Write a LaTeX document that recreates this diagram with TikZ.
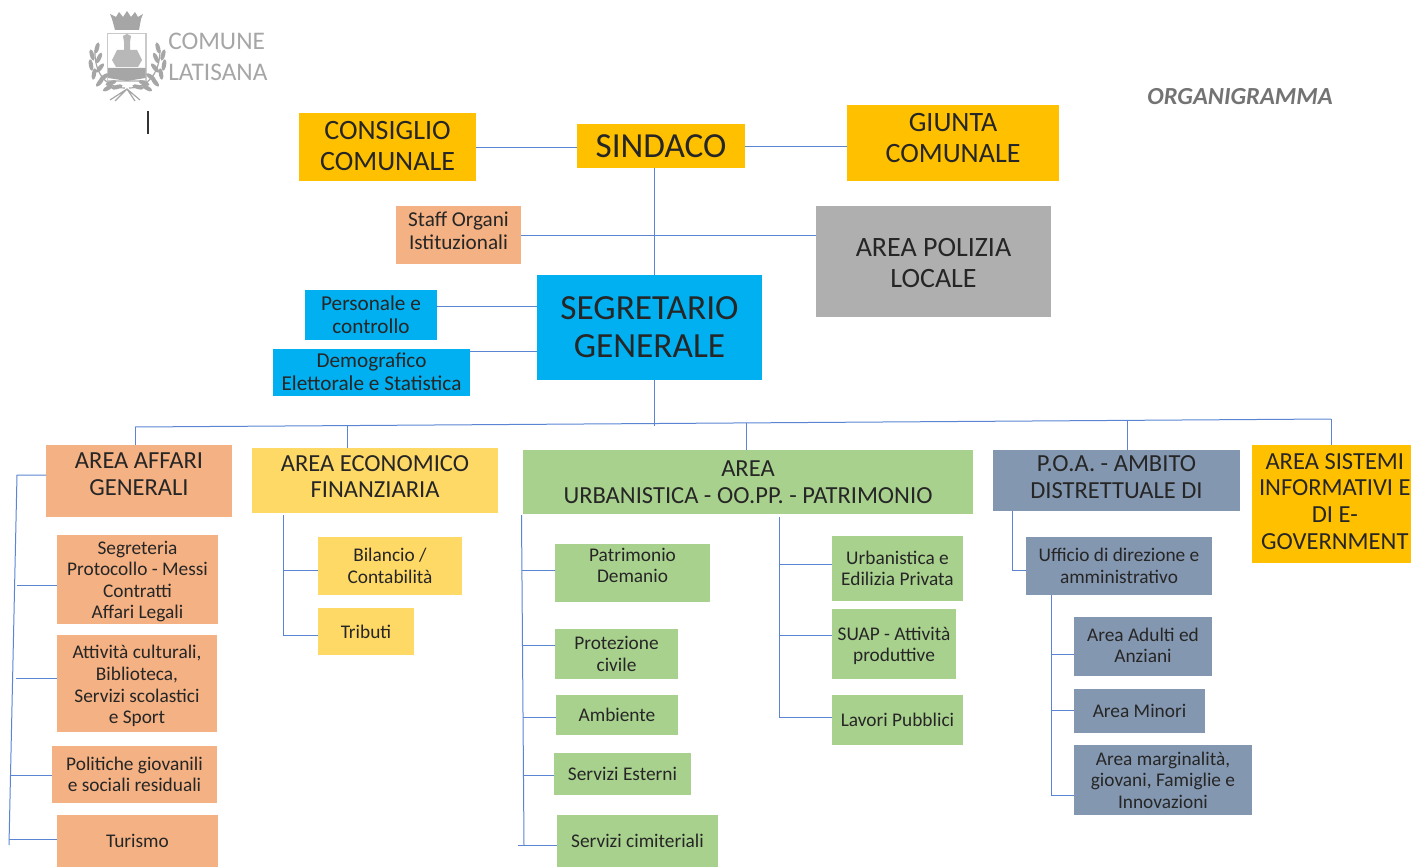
\documentclass[tikz,border=0pt]{standalone}
\usepackage{fontspec}
\setmainfont{Carlito}
\definecolor{goldbox}{HTML}{FFC000}
\definecolor{salmonbox}{HTML}{F4B183}
\definecolor{yellowbox}{HTML}{FFD966}
\definecolor{greenbox}{HTML}{A9D18E}
\definecolor{skybox}{HTML}{00B0F0}
\definecolor{greybox}{HTML}{AFAFAF}
\definecolor{slatebox}{HTML}{8497B0}
\definecolor{linkblue}{HTML}{5B85D3}
\definecolor{logogrey}{HTML}{A6A6A6}
\tikzset{
  wh/.style args={#1x#2}{minimum width=#1*0.75pt, minimum height=#2*0.75pt},
  orgbox/.style={rectangle, inner sep=0pt, align=center, text=black!85},
  small/.style={orgbox, font=\fontsize{14.5}{16.2}\selectfont},
  staffsize/.style={orgbox, font=\fontsize{15.9}{17.2}\selectfont},
  medium/.style={orgbox, font=\fontsize{18.4}{19.9}\selectfont},
  large/.style={orgbox, font=\fontsize{21}{23.25}\selectfont},
  link/.style={draw=linkblue, line width=0.75pt},
  leaf/.style={fill=logogrey, draw=none}
}
\begin{document}
\begin{tikzpicture}[x=0.75pt, y=-0.75pt]
   \useasboundingbox (0,0) rectangle (1411,867);

   % top of the chart
   \node[large, fill=goldbox, wh=177x68, label={[large, yshift=0.75pt]center:{CONSIGLIO\\COMUNALE}}] (consiglio) at (387.5,147) {};
   \node[orgbox, fill=goldbox, wh=168x44, font=\fontsize{26.4}{28}\selectfont] (sindaco) at (661,146) {SINDACO};
   \node[large, fill=goldbox, wh=212x76, label={[large, yshift=3.75pt]center:{GIUNTA\\COMUNALE}}] (giunta) at (953,143) {};
   \node[staffsize, fill=salmonbox, wh=125x58, label={[staffsize, yshift=3pt]center:{Staff Organi\\Istituzionali}}] (staff) at (458.5,235) {};
   \node[large, fill=greybox, wh=235x111, label={[large, yshift=-1.2pt]center:{AREA POLIZIA\\LOCALE}}] (polizia) at (933.5,261.5) {};
   \node[orgbox, fill=skybox, wh=225x105, font=\fontsize{26.5}{28.5}\selectfont] (segretario) at (649.5,327.5) {SEGRETARIO\\GENERALE};
   \node[staffsize, fill=skybox, wh=132x50] (personale) at (371,315) {Personale e\\controllo};
   \node[staffsize, fill=skybox, wh=197x47] (demografico) at (371.5,372) {Demografico\\Elettorale e Statistica};

   % the areas
   \node[medium, fill=salmonbox, wh=186x72, label={[medium, yshift=5pt]center:{AREA AFFARI\\GENERALI}}] (affari) at (139,481) {};
   \node[medium, fill=yellowbox, wh=246x65, label={[medium, yshift=3pt]center:{AREA ECONOMICO\\FINANZIARIA}}] (economico) at (375,480.5) {};
   \node[medium, fill=greenbox, wh=450x64] (urbarea) at (748,482) {AREA\\URBANISTICA - OO.PP. - PATRIMONIO};
   \node[medium, fill=slatebox, wh=247x61, label={[medium, yshift=2.5pt]center:{P.O.A. - AMBITO\\DISTRETTUALE DI}}] (poa) at (1116.5,480.5) {};
   \node[medium, fill=goldbox, wh=159x118, label={[medium, xshift=2.5pt, yshift=2pt]center:{AREA SISTEMI\\INFORMATIVI E\\DI E-\\GOVERNMENT}}] (sistemi) at (1331.5,504) {};

   % offices
   \node[small, fill=salmonbox, wh=161x89, label={[small, yshift=-1.5pt]center:{Segreteria\\Protocollo - Messi\\Contratti\\Affari Legali}}] (segreteria) at (137.5,579.5) {};
   \node[small, fill=salmonbox, wh=160x97, label={[small, yshift=-2pt]center:{Attività culturali,\\Biblioteca,\\Servizi scolastici\\e Sport}}] (attivita) at (137,683.5) {};
   \node[small, fill=salmonbox, wh=165x57] (politiche) at (134.5,774.5) {Politiche giovanili\\e sociali residuali};
   \node[small, fill=salmonbox, wh=161x52] (turismo) at (137.5,841) {Turismo};
   \node[small, fill=yellowbox, wh=144x58] (bilancio) at (390,566) {Bilancio /\\Contabilità};
   \node[small, fill=yellowbox, wh=96x47] (tributi) at (366,631.5) {Tributi};
   \node[small, fill=greenbox, wh=155x58.5, label={[small, yshift=5.5pt]center:{Patrimonio\\Demanio}}] (patrimonio) at (632.5,572.75) {};
   \node[small, fill=greenbox, wh=123x50] (protezione) at (616.5,654) {Protezione\\civile};
   \node[small, fill=greenbox, wh=122x40] (ambiente) at (617,715) {Ambiente};
   \node[small, fill=greenbox, wh=137x42.5] (esterni) at (622.5,773.75) {Servizi Esterni};
   \node[small, fill=greenbox, wh=161x52] (cimiteriali) at (637.5,841) {Servizi cimiteriali};
   \node[small, fill=greenbox, wh=131x65] (urbanistica) at (897.5,568.5) {Urbanistica e\\Edilizia Privata};
   \node[small, fill=greenbox, wh=124x70, label={[small, yshift=-1.5pt]center:{SUAP - Attività\\produttive}}] (suap) at (894,644) {};
   \node[small, fill=greenbox, wh=131x50] (lavori) at (897.5,720) {Lavori Pubblici};
   \node[small, fill=slatebox, wh=186x58.5] (ufficio) at (1119,565.75) {Ufficio di direzione e\\amministrativo};
   \node[small, fill=slatebox, wh=138x59, label={[small, yshift=1pt]center:{Area Adulti ed\\Anziani}}] (adulti) at (1143,646.5) {};
   \node[small, fill=slatebox, wh=131x44] (minori) at (1139.5,711) {Area Minori};
   \node[small, fill=slatebox, wh=178x70] (marginalita) at (1163,780) {Area marginalità,\\giovani, Famiglie e\\Innovazioni};

   \node[font=\bfseries\itshape\fontsize{18.4}{20}\selectfont, text=black!55] (titolo) at (1240,97) {ORGANIGRAMMA};

   % points where the lines turn
   \coordinate (trunkA) at (654,168);
   \coordinate (trunkB) at (654,380);
   \coordinate (trunkC) at (654,426);
   \coordinate (persOut) at (437,306);
   \coordinate (demoOut) at (470,351);
   \coordinate (busL) at (135,427);
   \coordinate (busE) at (347,426);
   \coordinate (busU) at (746,423);
   \coordinate (busP) at (1127,420.5);
   \coordinate (busR) at (1331,419);
   \coordinate (affA) at (46,475);
   \coordinate (affB) at (17,475);
   \coordinate (affC) at (9,845);
   \coordinate (ecoA) at (283,515);
   \coordinate (ecoB) at (283,635);
   \coordinate (urbA) at (521.5,515);
   \coordinate (urbB) at (524,845);
   \coordinate (urbC) at (518,845);
   \coordinate (urbD) at (779,517);
   \coordinate (urbE) at (779,717);
   \coordinate (poaA) at (1012,511);
   \coordinate (poaB) at (1012,570.5);
   \coordinate (uffA) at (1051.5,595);
   \coordinate (uffB) at (1051.5,795);
   \coordinate (tickA) at (148,111);
   \coordinate (tickB) at (148,134);

   \draw[link] (consiglio.east) to (consiglio.east -| sindaco.west);
   \draw[link] (sindaco.east) to (sindaco.east -| giunta.west);
   \draw[link] (trunkA) to (trunkA |- segretario.north);
   \draw[link] (staff.east) to (staff.east -| polizia.west);
   \draw[link] (persOut) to (persOut -| segretario.west);
   \draw[link] (demoOut) to (demoOut -| segretario.west);
   \draw[link] (trunkB) to (trunkC);

   \draw[link] (busL) to (busR);
   \draw[link] (busL) to (busL |- affari.north);
   \draw[link] (busE) to (busE |- economico.north);
   \draw[link] (busU) to (busU |- urbarea.north);
   \draw[link] (busP) to (busP |- poa.north);
   \draw[link] (busR) to (busR |- sistemi.north);

   \draw[link] (affA) -- (affB) -- (affC);
   \draw[link] (17,585) to (17,585 -| segreteria.west);
   \draw[link] (16,678.7) to (16,678.7 -| attivita.west);
   \draw[link] (9.5,775) to (9.5,775 -| politiche.west);
   \draw[link] (9,839.5) to (9,839.5 -| turismo.west);

   \draw[link] (ecoA) -- (ecoB) -- (ecoB -| tributi.west);
   \draw[link] (283,570.5) to (283,570.5 -| bilancio.west);

   \draw[link] (urbA) -- (urbB);
   \draw[link] (522,570.5) to (522,570.5 -| patrimonio.west);
   \draw[link] (522.5,645.5) to (522.5,645.5 -| protezione.west);
   \draw[link] (523,717) to (523,717 -| ambiente.west);
   \draw[link] (523.5,775) to (523.5,775 -| esterni.west);
   \draw[link] (urbC) to (urbC -| cimiteriali.west);

   \draw[link] (urbD) -- (urbE) -- (urbE -| lavori.west);
   \draw[link] (779,564.5) to (779,564.5 -| urbanistica.west);
   \draw[link] (779,635) to (779,635 -| suap.west);

   \draw[link] (poaA) -- (poaB) -- (poaB -| ufficio.west);
   \draw[link] (uffA) -- (uffB) -- (uffB -| marginalita.west);
   \draw[link] (1051.5,654.5) to (1051.5,654.5 -| adulti.west);
   \draw[link] (1051.5,710) to (1051.5,710 -| minori.west);

   \draw[black!80, line width=0.8pt] (tickA) to (tickB);

   % logo
   \node[font=\fontsize{19}{23}\selectfont, text=logogrey, anchor=west, inner sep=0pt] (comune) at (168,41) {COMUNE};
   \node[font=\fontsize{19}{23}\selectfont, text=logogrey, anchor=west, inner sep=0pt] (latisana) at (168,72) {LATISANA};
   \fill[logogrey] (112,19) -- (110,14) -- (116,17) -- (119,12) -- (123,17) -- (127,11) -- (131,17) -- (135,12) -- (138,17) -- (143,14) -- (141,19) -- (139,30) -- (115,30) -- cycle;
   \draw[logogrey!60, line width=0.8pt] (107.5,33.5) rectangle (146,81);
   \fill[logogrey] (108,68) -- (145.5,68) -- (145.5,78) -- (127,81) -- (108,78) -- cycle;
   \fill[logogrey!80] (123,36) -- (127,34) -- (131,36) -- (130,42) -- (130,50) -- (137,50) -- (142,60) -- (138,67) -- (116,67) -- (112,60) -- (117,50) -- (124,50) -- (124,42) -- cycle;
   \draw[logogrey, line width=0.9pt] (125,88) .. controls (108,88) and (94,75) .. (95,50);
   \draw[logogrey, line width=0.9pt] (129,88) .. controls (146,88) and (160,75) .. (160,50);
   \foreach \lx/\ly/\la in {97/48/-15, 92/55/15, 99/58/-25, 91/65/10, 100/68/-40, 94/74/-10, 104/77/-55, 100/82/-40, 111/83/-70, 108/88/-60, 117/87/-75}
     \fill[leaf] (\lx,\ly) ellipse [x radius=1.6pt, y radius=4.4pt, rotate=\la];
   \foreach \lx/\ly/\la in {158/48/15, 163/55/-15, 156/58/25, 164/65/-10, 155/68/40, 161/74/10, 151/77/55, 155/82/40, 144/83/70, 147/88/60, 138/87/75}
     \fill[leaf] (\lx,\ly) ellipse [x radius=1.6pt, y radius=4.4pt, rotate=\la];
   \draw[logogrey, line width=0.9pt] (110,100) -- (127,89) -- (140,100) (115,101) -- (127,89) -- (135,101);
\end{tikzpicture}
\end{document}
